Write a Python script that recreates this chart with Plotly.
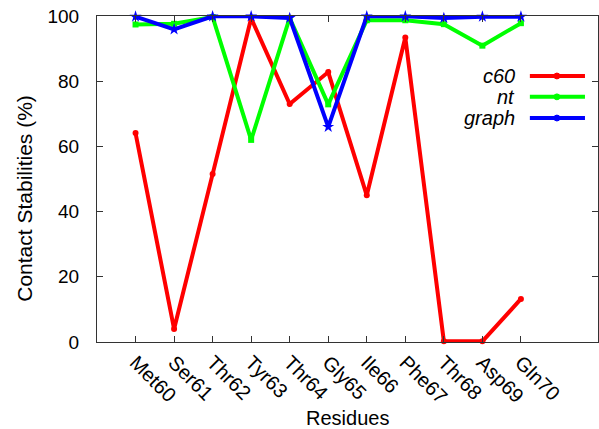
import plotly.graph_objects as go

residues = ["Met60", "Ser61", "Thr62", "Tyr63", "Thr64", "Gly65", "Ile66",
            "Phe67", "Thr68", "Asp69", "Gln70"]
c60 = [64.1, 4.0, 51.5, 99.3, 73.0, 82.8, 45.0, 93.4, 0.2, 0.2, 13.2]
nt = [97.4, 97.6, 99.7, 62.0, 99.4, 72.9, 98.7, 98.7, 97.5, 90.9, 97.8]
graph = [99.8, 95.9, 99.9, 99.9, 99.4, 66.0, 99.9, 99.9, 99.4, 99.8, 99.8]

series = [("c60", c60, "#ff0000", "circle", 6),
          ("nt", nt, "#00ff00", "square", 6),
          ("graph", graph, "#0000ff", "star", 9)]

FONT = "Liberation Sans, Arial, sans-serif"
fig = go.Figure()
xidx = list(range(len(residues)))
for name, vals, col, sym, msz in series:
    fig.add_trace(go.Scatter(
        x=xidx, y=vals, mode="lines+markers", name=name,
        line=dict(color=col, width=4),
        marker=dict(color=col, symbol=sym, size=msz),
        cliponaxis=False, showlegend=False))

# custom gnuplot-style legend (text left of sample)
leg_y = [0.816, 0.752, 0.687]
for (name, vals, col, sym, msz), yy in zip(series, leg_y):
    fig.add_annotation(x=0.838, y=yy, xref="paper", yref="paper",
                       text=name, showarrow=False, xanchor="right",
                       yanchor="middle",
                       font=dict(family=FONT, size=20, color="black",
                                 style="italic"))
    fig.add_shape(type="line", xref="paper", yref="paper",
                  x0=0.864, x1=0.974, y0=yy, y1=yy,
                  line=dict(color=col, width=4))
    fig.add_shape(type="circle", xref="paper", yref="paper",
                  x0=0.918 - 0.006, x1=0.918 + 0.006,
                  y0=yy - 0.009, y1=yy + 0.009,
                  fillcolor=col, line=dict(color=col, width=1))

# axis titles
fig.add_annotation(x=-0.144, y=0.442, xref="paper", yref="paper",
                   text="Contact Stabilities (%)", textangle=-90,
                   showarrow=False, xanchor="center", yanchor="middle",
                   font=dict(family=FONT, size=21, color="black"))
fig.add_annotation(x=0.5, y=-0.233, xref="paper", yref="paper",
                   text="Residues", showarrow=False,
                   xanchor="center", yanchor="middle",
                   font=dict(family=FONT, size=20, color="black"))

fig.update_layout(
    width=599, height=429,
    margin=dict(l=97, r=1, t=16, b=87),
    paper_bgcolor="white", plot_bgcolor="white",
    font=dict(family=FONT, size=20, color="black"),
    hovermode=False,
)
fig.update_xaxes(
    range=[-1, 12], tickmode="array", tickvals=xidx, ticktext=residues,
    tickangle=45, ticks="inside", ticklen=6, tickcolor="#333",
    showline=True, linecolor="#333", linewidth=1, mirror="ticks",
    showgrid=False, zeroline=False,
    tickfont=dict(size=20), ticklabelstandoff=0,
    automargin=False,
)
fig.update_yaxes(
    range=[0, 100], tickvals=[0, 20, 40, 60, 80, 100],
    ticks="inside", ticklen=6, tickcolor="#333",
    showline=True, linecolor="#333", linewidth=1, mirror="ticks",
    showgrid=False, zeroline=False,
    tickfont=dict(size=19), ticklabelstandoff=13,
    automargin=False,
)
fig.write_html("out.html",
               config={"displayModeBar": False},
               post_script="document.body.style.margin='0';")
